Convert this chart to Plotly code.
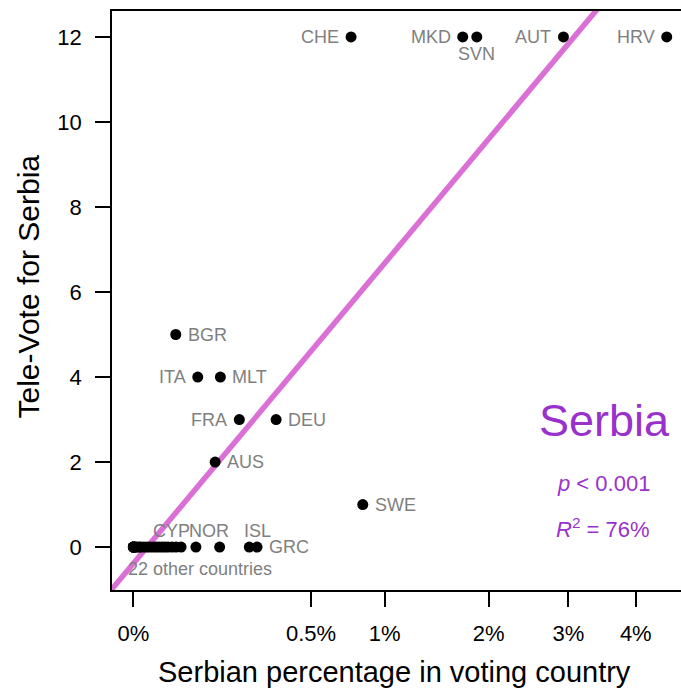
import plotly.graph_objects as go
import numpy as np

# ---- data ----
labeled_countries = ["CHE", "MKD", "SVN", "AUT", "HRV", "BGR", "ITA", "MLT",
                     "FRA", "DEU", "AUS", "SWE", "CYP", "NOR", "ISL", "GRC"]
labeled_pct = [0.751, 1.719, 1.869, 2.931, 4.508, 0.0285, 0.0657, 0.120,
               0.178, 0.323, 0.106, 0.834, 0.062, 0.118, 0.213, 0.2425]
labeled_votes = [12, 12, 12, 12, 12, 5, 4, 4, 3, 3, 2, 1, 0, 0, 0, 0]
label_side = ["left", "left", "below", "left", "left", "right", "left", "right",
              "left", "right", "right", "right", "above", "above", "above", "right"]

other_pct = [0.0, 0.0, 0.0, 0.0, 0.0, 0.00001, 0.00005, 0.0002, 0.0005, 0.0009,
             0.0018, 0.0030, 0.0044, 0.0062, 0.0082, 0.0105, 0.0131, 0.0159,
             0.0191, 0.0237, 0.0289, 0.0361]
other_votes = [0, 0, 0, 0, 0, 0, 0, 0, 0, 0, 0, 0, 0, 0, 0, 0, 0, 0, 0, 0, 0, 0]

x_tick_values = [0, 0.5, 1, 2, 3, 4]
x_tick_labels = ["0%", "0.5%", "1%", "2%", "3%", "4%"]
y_tick_values = [0, 2, 4, 6, 8, 10, 12]

fit_intercept = -0.386
fit_slope = 7.06
line_x_ends = [-0.15, 2.3]

FONT = "Liberation Sans, Arial, sans-serif"
GREY = "#7f7f7f"
PURPLE = "#9932CC"
ORCHID = "#DA70D6"

fig = go.Figure()

# regression line (on sqrt scale)
lx = np.array(line_x_ends)
fig.add_trace(go.Scatter(x=lx, y=fit_intercept + fit_slope * lx, mode="lines",
                         line=dict(color=ORCHID, width=5.5), hoverinfo="skip",
                         showlegend=False))

# other countries
fig.add_trace(go.Scatter(x=np.sqrt(other_pct), y=other_votes, mode="markers",
                         marker=dict(color="black", size=11), showlegend=False,
                         cliponaxis=False))

# labelled countries
fig.add_trace(go.Scatter(x=np.sqrt(labeled_pct), y=labeled_votes,
                         mode="markers", text=labeled_countries,
                         marker=dict(color="black", size=11), showlegend=False,
                         cliponaxis=False))

above_shift = {"CYP": -24, "NOR": -11, "ISL": 8}
for c, p, v, side in zip(labeled_countries, labeled_pct, labeled_votes, label_side):
    xv = float(np.sqrt(p))
    if side == "left":
        kw = dict(xanchor="right", yanchor="middle", xshift=-10, yshift=0)
    elif side == "right":
        kw = dict(xanchor="left", yanchor="middle", xshift=10, yshift=0)
    elif side == "below":
        kw = dict(xanchor="center", yanchor="middle", xshift=0, yshift=-17)
    else:
        kw = dict(xanchor="center", yanchor="middle", xshift=above_shift[c], yshift=16)
    fig.add_annotation(x=xv, y=v, text=c, showarrow=False,
                       font=dict(color=GREY, size=18, family=FONT), **kw)

fig.add_annotation(x=0, y=0, text="22 other countries", showarrow=False,
                   xanchor="left", yanchor="middle", xshift=-7, yshift=-22,
                   font=dict(color=GREY, size=18, family=FONT))

# stats text
fig.add_annotation(xref="paper", yref="paper", x=0.984, y=0.2936,
                   text="Serbia", showarrow=False, xanchor="right", yanchor="middle",
                   font=dict(color=PURPLE, size=45, family=FONT))
fig.add_annotation(xref="paper", yref="paper", x=0.863, y=0.1848,
                   text="<i>p</i> &lt; 0.001", showarrow=False,
                   xanchor="center", yanchor="middle",
                   font=dict(color=PURPLE, size=22, family=FONT))
fig.add_annotation(xref="paper", yref="paper", x=0.863, y=0.107,
                   text="<i>R</i><sup>2</sup> = 76%", showarrow=False,
                   xanchor="center", yanchor="middle",
                   font=dict(color=PURPLE, size=22, family=FONT))

# axis titles
fig.add_annotation(xref="paper", yref="paper", x=0.5, y=0,
                   text="Serbian percentage in voting country", showarrow=False,
                   xanchor="center", yanchor="middle", yshift=-82, xshift=-2,
                   font=dict(color="black", size=29, family=FONT))
fig.add_annotation(xref="paper", yref="paper", x=0, y=0.5,
                   text="Tele-Vote for Serbia", showarrow=False, textangle=-90,
                   xanchor="center", yanchor="middle", xshift=-84, yshift=14,
                   font=dict(color="black", size=30, family=FONT))

fig.update_layout(
    width=681, height=688,
    margin=dict(l=112, r=0, t=11, b=98),
    paper_bgcolor="white", plot_bgcolor="white",
    font=dict(family=FONT, color="black"),
)
fig.update_xaxes(range=[-0.085, 2.18], showgrid=False, zeroline=False,
                 showline=True, linecolor="black", linewidth=1.5, mirror=True,
                 tickmode="array", tickvals=list(np.sqrt(x_tick_values)),
                 ticktext=x_tick_labels, ticks="outside", ticklen=15,
                 tickwidth=1.5, tickcolor="black", ticklabelstandoff=8,
                 tickfont=dict(size=22, family=FONT, color="black"))
fig.update_yaxes(range=[-1.01, 12.61], showgrid=False, zeroline=False,
                 showline=True, linecolor="black", linewidth=1.5, mirror=False,
                 tickmode="array", tickvals=y_tick_values, ticks="outside",
                 ticklen=15, tickwidth=1.5, tickcolor="black",
                 ticklabelstandoff=9,
                 tickfont=dict(size=22, family=FONT, color="black"))

fig.write_html("out.html", config={"displayModeBar": False},
               post_script="document.body.style.margin='0';document.body.style.overflow='hidden';")
